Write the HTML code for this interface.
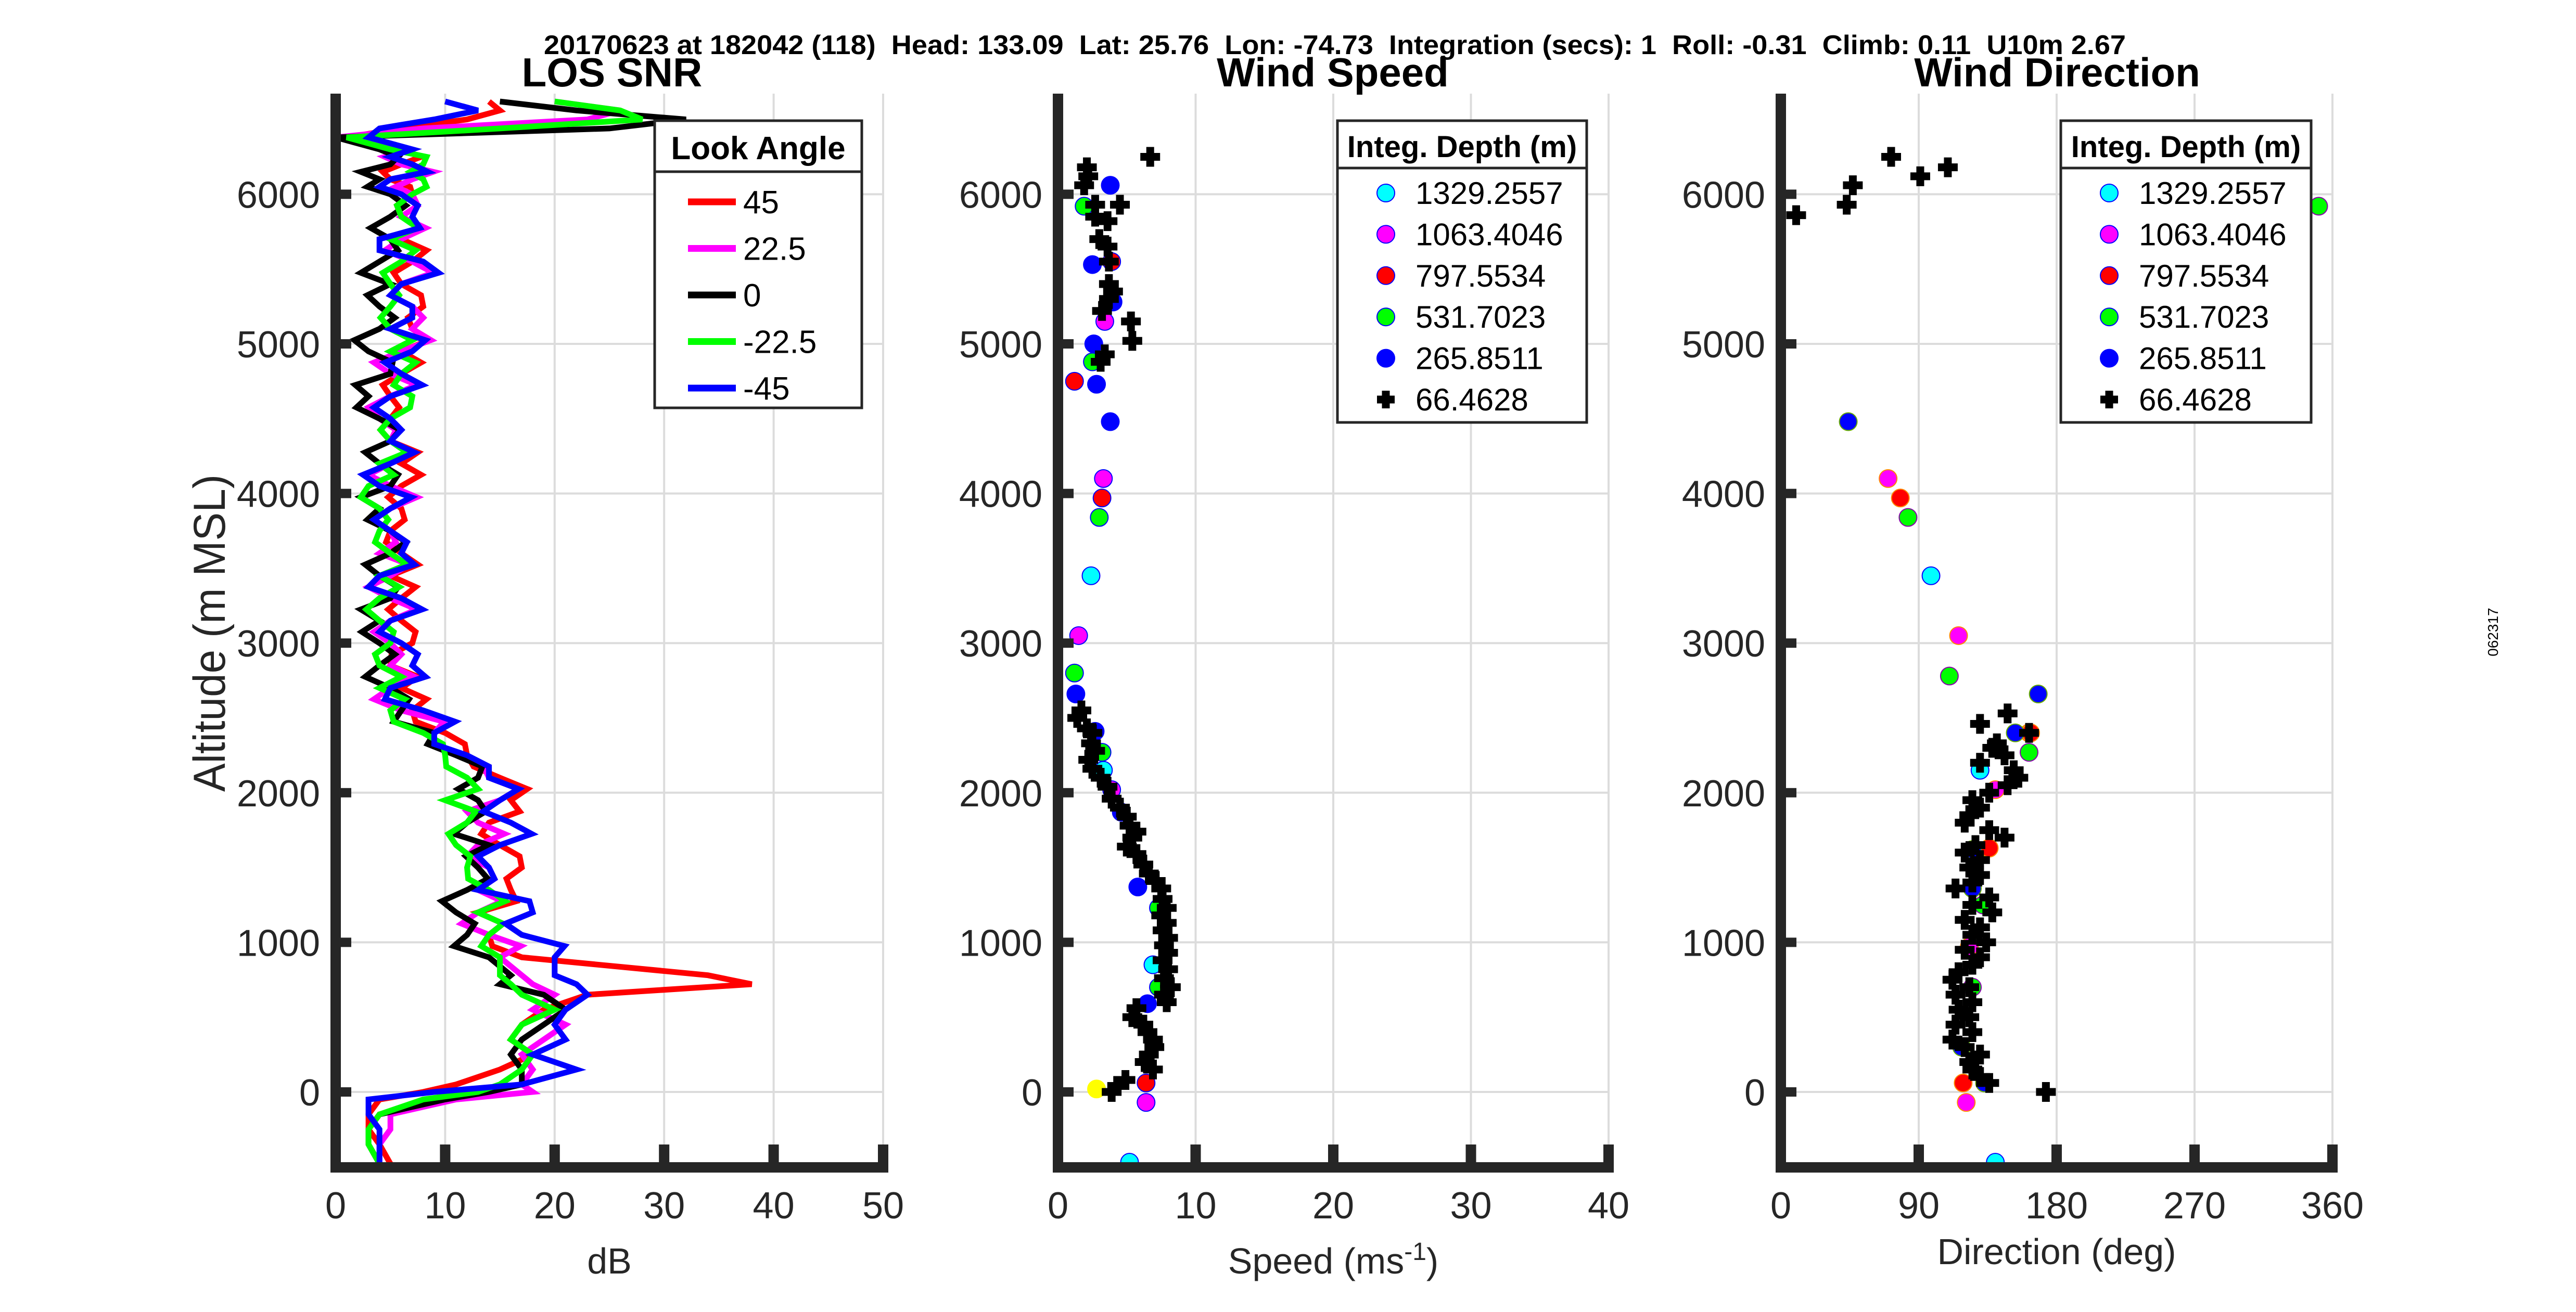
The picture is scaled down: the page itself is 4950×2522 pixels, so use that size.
<!DOCTYPE html>
<html><head><meta charset="utf-8"><style>
html,body{margin:0;padding:0;background:#fff;}
svg{display:block;font-family:"Liberation Sans",Arial,sans-serif;}
</style></head><body>
<svg id="fig" xmlns="http://www.w3.org/2000/svg" width="4950" height="2522" viewBox="0 0 4950 2522">
<rect width="4950" height="2522" fill="#fff"/>
<text x="2565" y="104" font-size="52" font-weight="bold" text-anchor="middle" textLength="3040" lengthAdjust="spacingAndGlyphs" xml:space="preserve">20170623 at 182042 (118)  Head: 133.09  Lat: 25.76  Lon: -74.73  Integration (secs): 1  Roll: -0.31  Climb: 0.11  U10m 2.67</text>
<text x="4800" y="1215" font-size="28" text-anchor="middle" transform="rotate(-90 4800 1215)">062317</text>
<g id="p1"></g>
<g id="p2"></g>
<g id="p3"></g>
</svg>
<script>
// ---------- data ----------
const snrAlt = [6620,6560,6500,6440,6380,6300,6200,6100,6000,5850,5700,5550,5400,5250,5100,4950,4800,4650,4500,4350,4200,4050,3900,3750,3600,3450,3300,3150,3000,2850,2700,2550,2400,2250,2100,1950,1800,1650,1500,1350,1200,1050,900,780,720,650,550,450,350,250,150,50,0,-50,-150,-250,-350,-480];
const snr45 = [14,15,12,6,1,6,6,5,7,6,6,7,6,8,7,6,6,5,5,5,6,6,6,5,6,5,6,6,7,5,6,7,10,12,15,16,14,15,17,16,13,14,17,34,38,23,19,17,16,18,15,11,8,4,3,3,4,5];
const snr22 = [20,26,23,8,0,7,6,7,7,6,6,7,6,7,7,6,5,5,4,5,5,5,5,5,4,5,5,5,5,5,5,6,9,11,14,15,13,13,14,13,13,14,15,17,18,20,18,21,19,17,18,17,18,11,5,5,4,4];
const snr0 = [15,22,32,25,0,4,5,4,5,5,5,4,5,4,4,3,5,3,4,5,4,5,4,5,5,4,5,4,4,4,5,6,9,11,13,13,12,14,13,12,11,12,14,16,15,19,21,19,17,16,17,17,14,10,4,3,3,4];
const snrM22 = [20,26,28,15,1,5,8,8,7,6,5,6,5,5,5,5,6,7,5,5,4,3,4,4,5,4,4,4,5,4,4,5,8,10,12,10,12,11,12,14,13,14,15,15,16,17,20,17,16,18,17,15,13,8,4,3,3,4];
const snrM45 = [10,13,9,4,3,7,7,5,6,7,4,8,6,7,5,7,6,5,5,5,5,4,5,5,6,4,6,5,6,7,5,8,9,12,14,15,16,15,14,13,18,17,20,20,22,23,21,20,21,18,22,17,9,3,3,4,4,4];
// small-scale wiggle inserted between profile samples (dB)
const snrJitter = [1.8,-1.6,2.2,-1.2,1.4,-2.0,0.8,-1.8,2.4,-0.9,1.2,-1.5,2.0,-2.2,1.0];
const lookAngles = ["45","22.5","0","-22.5","-45"];
const snrTicksX = [0,10,20,30,40,50];
const altTicks = [0,1000,2000,3000,4000,5000,6000];
const speedTicks = [0,10,20,30,40];
const dirTicks = [0,90,180,270,360];
const depthLabels = ["1329.2557","1063.4046","797.5534","531.7023","265.8511","66.4628"];
const spdCyan = [2.4,6.9,5.2,3.3];        const altSpdCyan = [3450,850,-470,2150];
const spdMag = [1.5,3.3,3.4,6.4,3.9];     const altSpdMag = [3050,4100,5150,-70,2020];
const spdRed = [1.2,3.2,6.4,3.9];         const altSpdRed = [4750,3970,60,5550];
const spdGreen = [1.2,3.0,1.9,2.5,3.2,7.3,7.3]; const altSpdGreen = [2800,3840,5920,4880,2270,1230,700];
const spdBlue = [1.3,3.8,3.8,2.5,2.8,4.0,2.6,5.8,6.5,4.6,2.7]; const altSpdBlue = [2660,4480,6060,5530,4730,5280,5000,1370,590,1870,2410];
const spdYellow = [2.8]; const altSpdYellow = [20];
const spdBlack = [6.7,2.1,2.2,1.9,2.7,4.5,2.7,3.6,3.0,3.6,3.7,3.7,4.0,3.7,3.2,5.3,5.4,3.4,3.1,1.7,1.4,2.1,2.5,2.4,2.7,2.2,2.5,3.1,3.6,3.9,4.5,5.0,5.2,5.7,5.4,5.0,5.7,6.2,6.6,7.1,7.5,7.6,7.9,7.5,7.9,7.6,8.0,7.7,8.0,7.6,8.0,7.7,8.2,7.7,7.9,5.7,5.4,6.2,6.5,6.9,7.0,6.6,6.3,6.9,4.9,4.3,3.9];
const altSpdBlack = [6250,6180,6120,6060,5930,5930,5850,5820,5700,5650,5550,5400,5350,5300,5220,5150,5020,4930,4880,2550,2500,2430,2400,2330,2280,2220,2160,2100,2040,1960,1900,1840,1780,1740,1700,1640,1590,1520,1460,1410,1360,1290,1230,1180,1130,1080,1030,980,930,880,820,760,700,650,600,560,500,450,400,350,300,250,200,150,80,40,0];
const dirCyan = [98,130,140];             const altDirCyan = [3450,2150,-470];
const dirMag = [70,116,162,140,123,121];  const altDirMag = [4100,3050,2400,2020,970,-70];
const dirRed = [78,163,136,119];          const altDirRed = [3970,2400,1630,60];
const dirGreen = [351,83,110,162,125,132];const altDirGreen = [5920,3840,2780,2270,700,1250];
const dirBlue = [44,168,153,125,125,118,133]; const altDirBlue = [4480,2660,2400,1620,1360,300,60];
const dirBlack = [10,43,47,72,109,91,148,130,162,141,138,146,130,152,155,148,136,125,130,123,120,136,146,127,120,130,123,130,125,114,136,125,138,120,130,125,134,120,130,125,116,112,123,114,125,116,123,114,125,112,120,130,123,125,130,136,173];
const altDirBlack = [5860,5930,6060,6250,6180,6120,2530,2460,2400,2330,2300,2250,2200,2150,2100,2050,2000,1950,1900,1850,1800,1750,1700,1650,1600,1550,1500,1450,1400,1360,1300,1250,1200,1150,1100,1050,1000,950,900,850,800,750,700,650,600,550,500,450,400,350,300,250,200,150,100,60,0];

// ---------- helpers ----------
const NS = "http://www.w3.org/2000/svg";
function mk(tag, attrs, parent){ const e=document.createElementNS(NS,tag); for(const k in attrs) e.setAttribute(k,attrs[k]); if(parent) parent.appendChild(e); return e; }
const Y0 = 2099, PX_PER_M = 0.2876, YTOP = 180, YBOT = 2244;
function yScale(a){ return Y0 - a*PX_PER_M; }
function makeX(x0,x1,v0,v1){ return v => x0 + (v-v0)/(v1-v0)*(x1-x0); }
const INK = "#262626";

function drawAxes(g, x0, x1, xs, xticks, title, tx, xlabelY, id){
  for(const t of xticks){ if(t===xticks[0]) continue;
    const l=mk("line",{x1:xs(t),x2:xs(t),y1:YTOP,y2:YBOT,stroke:"#dcdcdc","stroke-width":4},g);
    
    
  }
  for(const a of altTicks){
    const l=mk("line",{x1:x0,x2:x1,y1:yScale(a),y2:yScale(a),stroke:"#dcdcdc","stroke-width":4},g);
    
    
  }
  const clip=mk("clipPath",{id:"clip"+id},g); mk("rect",{x:x0,y:YTOP,width:x1-x0,height:YBOT-YTOP},clip);
  const data=mk("g",{"clip-path":"url(#clip"+id+")"},g);
  
  
  const t=mk("text",{x:tx,y:166,"font-size":78,"font-weight":"bold","text-anchor":"middle"},g); t.textContent=title;
  
  
  const xl=mk("text",{x:(x0+x1)/2,y:xlabelY,"font-size":70,"text-anchor":"middle",fill:INK},g);
  
  
  return {data, xl};
}
function drawAxisLines(g,x0,x1,xs,xticks){
  const ax=mk("g",{},g);
  
  
  mk("rect",{x:x0-10,y:YTOP,width:20,height:YBOT-YTOP+10,fill:INK},ax);
  mk("rect",{x:x0-10,y:YBOT-10,width:x1-x0+20,height:20,fill:INK},ax);
  for(const a of altTicks){
    mk("rect",{x:x0,y:yScale(a)-9,width:30,height:18,fill:INK},ax);
    const tl=mk("text",{x:x0-30,y:yScale(a)+26,"font-size":72,"text-anchor":"end",fill:INK},ax); tl.textContent=a;
    
    
  }
  for(const t of xticks){
    mk("rect",{x:xs(t)-10,y:YBOT-44,width:20,height:44,fill:INK},ax);
    const tl=mk("text",{x:xs(t),y:2342,"font-size":72,"text-anchor":"middle",fill:INK},ax); tl.textContent=t;
    
    
  }
}
function circles(g, xs, vals, alts, fill, edge){
  for(let i=0;i<vals.length;i++){
    const c=mk("circle",{cx:xs(vals[i]),cy:yScale(alts[i]),r:17,fill:fill,stroke:edge,"stroke-width":2},g);
    
    
  }
}
function pluses(g, xs, vals, alts){
  for(let i=0;i<vals.length;i++){
    const x=xs(vals[i]), y=yScale(alts[i]);
    const p=mk("path",{d:`M${x-19} ${y}H${x+19}M${x} ${y-19}V${y+19}`,stroke:"#000","stroke-width":15,fill:"none"},g);
    
    
  }
}
function depthLegend(g, lx, ly, lw, lh){
  const lg=mk("g",{},g);
  
  
  mk("rect",{x:lx,y:ly,width:lw,height:lh,fill:"#fff",stroke:INK,"stroke-width":5},lg);
  mk("line",{x1:lx,x2:lx+lw,y1:ly+91,y2:ly+91,stroke:INK,"stroke-width":5},lg);
  const tt=mk("text",{x:lx+lw/2,y:ly+70,"font-size":58,"font-weight":"bold","text-anchor":"middle"},lg); tt.textContent="Integ. Depth (m)";
  
  
  const cols=["#00ffff","#ff00ff","#ff0000","#00ff00","#0000ff","#000"];
  for(let i=0;i<depthLabels.length;i++){
    const y=ly+139+i*79.4;
    const e=mk("g",{},lg);
    
    
    if(i<5) mk("circle",{cx:lx+93,cy:y,r:17,fill:cols[i],stroke:"#0000ff","stroke-width":2},e);
    else mk("path",{d:`M${lx+76} ${y}H${lx+110}M${lx+93} ${y-17}V${y+17}`,stroke:"#000","stroke-width":15},e);
    const t=mk("text",{x:lx+150,y:y+21,"font-size":60},e); t.textContent=depthLabels[i];
  }
}

// ---------- panel 1: LOS SNR ----------
(function(){
  const g=document.getElementById("p1"); const x0=645,x1=1697; const xs=makeX(x0,x1,0,50);
  const r=drawAxes(g,x0,x1,xs,snrTicksX,"LOS SNR",1176,2448,1); r.xl.textContent="dB";
  const series=[snr45,snr22,snr0,snrM22,snrM45]; const cols=["#ff0000","#ff00ff","#000000","#00ff00","#0000ff"];
  series.forEach((s,k)=>{
    let d="";
    for(let i=0;i<s.length;i++){
      d+=(i?"L":"M")+xs(s[i]).toFixed(1)+" "+yScale(snrAlt[i]).toFixed(1);
      if(i<s.length-1 && i>=5 && i<=41){
        const mv=(s[i]+s[i+1])/2 + snrJitter[(i*3+k*5)%snrJitter.length];
        const ma=(snrAlt[i]+snrAlt[i+1])/2;
        d+="L"+xs(Math.max(0.5,mv)).toFixed(1)+" "+yScale(ma).toFixed(1);
      }
    }
    const p=mk("path",{d:d,fill:"none",stroke:cols[k],"stroke-width":11,"stroke-linejoin":"miter"},r.data);
    
    
  });
  drawAxisLines(g,x0,x1,xs,snrTicksX);
  const yl=mk("text",{x:0,y:0,"font-size":86,"text-anchor":"middle",fill:INK,textLength:610,lengthAdjust:"spacingAndGlyphs",transform:"translate(432 1217) rotate(-90)"},g); yl.textContent="Altitude (m MSL)";
  
  
  const lg=mk("g",{},g);
  
  
  mk("rect",{x:1258,y:232,width:398,height:552,fill:"#fff",stroke:INK,"stroke-width":5},lg);
  mk("line",{x1:1258,x2:1656,y1:330,y2:330,stroke:INK,"stroke-width":5},lg);
  const tt=mk("text",{x:1457,y:306,"font-size":62,"font-weight":"bold","text-anchor":"middle"},lg); tt.textContent="Look Angle";
  
  
  for(let k=0;k<5;k++){
    const y=388+k*89.5;
    const e=mk("g",{},lg);
    
    
    mk("line",{x1:1322,x2:1414,y1:y,y2:y,stroke:cols[k],"stroke-width":13},e);
    const t=mk("text",{x:1428,y:y+22,"font-size":62},e); t.textContent=lookAngles[k];
  }
})();

// ---------- panel 2: Wind speed ----------
(function(){
  const g=document.getElementById("p2"); const x0=2033,x1=3091; const xs=makeX(x0,x1,0,40);
  const r=drawAxes(g,x0,x1,xs,speedTicks,"Wind Speed",2561,2448,2);
  r.xl.textContent="Speed (ms"; const sup=mk("tspan",{dy:-26,"font-size":48},r.xl); sup.textContent="-1"; const cl=mk("tspan",{dy:26},r.xl); cl.textContent=")";
  circles(r.data,xs,spdCyan,altSpdCyan,"#00ffff","#0000ff");
  circles(r.data,xs,spdMag,altSpdMag,"#ff00ff","#0000ff");
  circles(r.data,xs,spdRed,altSpdRed,"#ff0000","#0000ff");
  circles(r.data,xs,spdGreen,altSpdGreen,"#00ff00","#0000ff");
  circles(r.data,xs,spdBlue,altSpdBlue,"#0000ff","#0000ff");
  circles(r.data,xs,spdYellow,altSpdYellow,"#ffff00","#ffff00");
  pluses(r.data,xs,spdBlack,altSpdBlack);
  drawAxisLines(g,x0,x1,xs,speedTicks);
  depthLegend(g,2570,232,479,580);
})();

// ---------- panel 3: Wind direction ----------
(function(){
  const g=document.getElementById("p3"); const x0=3422,x1=4482; const xs=makeX(x0,x1,0,360);
  const r=drawAxes(g,x0,x1,xs,dirTicks,"Wind Direction",3953,2430,3); r.xl.textContent="Direction (deg)";
  circles(r.data,xs,dirCyan,altDirCyan,"#00ffff","#0000ff");
  circles(r.data,xs,dirMag,altDirMag,"#ff00ff","#ff8800");
  circles(r.data,xs,dirRed,altDirRed,"#ff0000","#ff8800");
  circles(r.data,xs,dirGreen,altDirGreen,"#00ff00","#8800aa");
  circles(r.data,xs,dirBlue,altDirBlue,"#0000ff","#66aa00");
  pluses(r.data,xs,dirBlack,altDirBlack);
  drawAxisLines(g,x0,x1,xs,dirTicks);
  depthLegend(g,3960,232,481,580);
})();
</script>
</body></html>
